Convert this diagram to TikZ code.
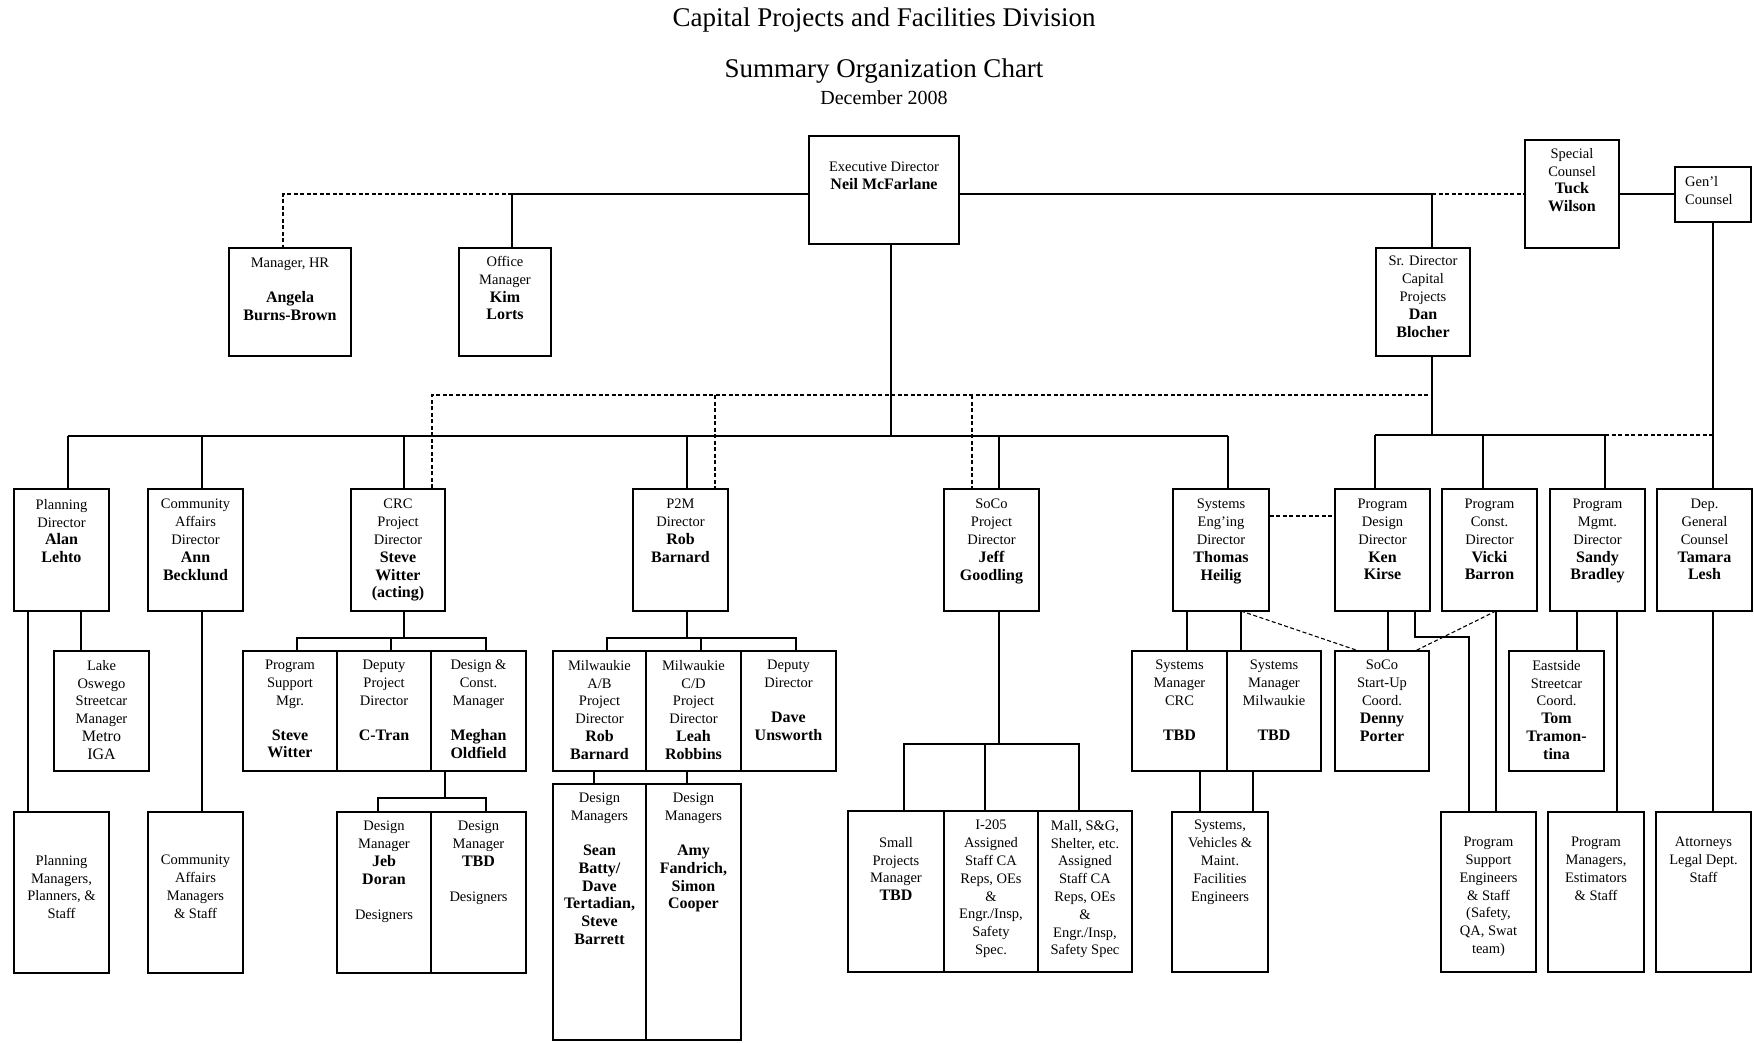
\documentclass[tikz,border=0pt]{standalone}
\usepackage{fontspec}
\setmainfont{Liberation Serif}
\usetikzlibrary{fit}
\newcommand\nm[1]{{\fontsize{16}{17.5}\selectfont\bfseries #1}}
\newcommand\obox[7]{%
  \node[ob, fit={(#2,#3) (#4,#5)}] (#1) {};
  \pgfmathsetmacro\ocx{(#2+#4)/2}%
  \node[otx] (#1-t) at (\ocx,#6) {#7};}
\tikzset{
  ob/.style={draw, line width=1.3pt, inner sep=0pt, rectangle},
  otx/.style={anchor=north, align=center, inner sep=0pt, font=\fontsize{14.5}{17.8}\selectfont},
  cn/.style={line width=1.1pt},
  dsh/.style={line width=1.1pt, dash pattern=on 4pt off 2.5pt},
}
\begin{document}
\begin{tikzpicture}[x=1pt,y=-1pt]
\useasboundingbox[fill=white] (0,0) rectangle (1754,1042);
% titles
\node[font=\fontsize{27}{30}\selectfont] (t1) at (884,20) {Capital Projects and Facilities Division};
\node[font=\fontsize{27}{30}\selectfont] (t2) at (884,71) {Summary Organization Chart};
\node[font=\fontsize{20}{23}\selectfont] (t3) at (884,98) {December 2008};
% top level
\obox{exec}{809}{136}{959}{244}{162}{Executive Director\\\nm{Neil McFarlane}}
\obox{hr}{229}{248}{351}{356}{258}{Manager, HR\\[17pt]\nm{Angela}\\\nm{Burns-Brown}}
\obox{office}{459}{248}{551}{356}{256}{Office\\Manager\\\nm{Kim}\\\nm{Lorts}}
\obox{srdir}{1376}{248}{1470}{356}{256}{Sr. Director\\Capital\\Projects\\\nm{Dan}\\\nm{Blocher}}
\obox{special}{1525}{140}{1619}{248}{148}{Special\\Counsel\\\nm{Tuck}\\\nm{Wilson}}
\node[ob, fit={(1675,167) (1751,222)}] (genl) {};
\node[otx, anchor=north west, align=left] (genl-t) at (1685,176) {Gen'l\\Counsel};
% level 2
\obox{pl}{14}{489}{109}{611}{499}{Planning\\Director\\\nm{Alan}\\\nm{Lehto}}
\obox{ca}{148}{489}{243}{611}{499}{Community\\Affairs\\Director\\\nm{Ann}\\\nm{Becklund}}
\obox{crc}{351}{489}{445}{611}{499}{CRC\\Project\\Director\\\nm{Steve}\\\nm{Witter}\\\nm{(acting)}}
\obox{p2m}{633}{489}{728}{611}{499}{P2M\\Director\\\nm{Rob}\\\nm{Barnard}}
\obox{soco}{944}{489}{1039}{611}{499}{SoCo\\Project\\Director\\\nm{Jeff}\\\nm{Goodling}}
\obox{syseng}{1173}{489}{1269}{611}{499}{Systems\\Eng'ing\\Director\\\nm{Thomas}\\\nm{Heilig}}
\obox{pd}{1335}{489}{1430}{611}{499}{Program\\Design\\Director\\\nm{Ken}\\\nm{Kirse}}
\obox{pc}{1442}{489}{1537}{611}{499}{Program\\Const.\\Director\\\nm{Vicki}\\\nm{Barron}}
\obox{pm}{1550}{489}{1645}{611}{499}{Program\\Mgmt.\\Director\\\nm{Sandy}\\\nm{Bradley}}
\obox{dep}{1657}{489}{1752}{611}{499}{Dep.\\General\\Counsel\\\nm{Tamara}\\\nm{Lesh}}
% level 3
\obox{lake}{54}{651}{149}{771}{660}{Lake\\Oswego\\Streetcar\\Manager\\{\fontsize{16}{17.5}\selectfont Metro}\\{\fontsize{16}{17.5}\selectfont IGA}}
\obox{psm}{243}{651}{337}{771}{660}{Program\\Support\\Mgr.\\[17pt]\nm{Steve}\\\nm{Witter}}
\obox{dpd}{337}{651}{431}{771}{660}{Deputy\\Project\\Director\\[17pt]\nm{C-Tran}}
\obox{dcm}{431}{651}{526}{771}{660}{Design \&\\Const.\\Manager\\[17pt]\nm{Meghan}\\\nm{Oldfield}}
\obox{mab}{553}{651}{646}{771}{660}{Milwaukie\\A/B\\Project\\Director\\\nm{Rob}\\\nm{Barnard}}
\obox{mcd}{646}{651}{741}{771}{660}{Milwaukie\\C/D\\Project\\Director\\\nm{Leah}\\\nm{Robbins}}
\obox{dd}{741}{651}{836}{771}{660}{Deputy\\Director\\[17pt]\nm{Dave}\\\nm{Unsworth}}
\obox{smc}{1132}{651}{1227}{771}{660}{Systems\\Manager\\CRC\\[17pt]\nm{TBD}}
\obox{smm}{1227}{651}{1321}{771}{660}{Systems\\Manager\\Milwaukie\\[17pt]\nm{TBD}}
\obox{start}{1335}{651}{1429}{771}{660}{SoCo\\Start-Up\\Coord.\\\nm{Denny}\\\nm{Porter}}
\obox{east}{1509}{651}{1604}{771}{660}{Eastside\\Streetcar\\Coord.\\\nm{Tom}\\\nm{Tramon-}\\\nm{tina}}
% level 4
\obox{plm}{14}{812}{109}{973}{855}{Planning\\Managers,\\Planners, \&\\Staff}
\obox{cam}{148}{812}{243}{973}{855}{Community\\Affairs\\Managers\\\& Staff}
\obox{dm1}{337}{812}{431}{973}{821}{Design\\Manager\\\nm{Jeb}\\\nm{Doran}\\[17pt]Designers}
\obox{dm2}{431}{812}{526}{973}{821}{Design\\Manager\\\nm{TBD}\\[17pt]Designers}
\obox{dma}{553}{784}{646}{1040}{793}{Design\\Managers\\[17pt]\nm{Sean}\\\nm{Batty/}\\\nm{Dave}\\\nm{Tertadian,}\\\nm{Steve}\\\nm{Barrett}}
\obox{dmc}{646}{784}{741}{1040}{793}{Design\\Managers\\[17pt]\nm{Amy}\\\nm{Fandrich,}\\\nm{Simon}\\\nm{Cooper}}
\obox{spm}{848}{811}{944}{972}{837}{Small\\Projects\\Manager\\\nm{TBD}}
\obox{i205}{944}{811}{1038}{972}{820}{I-205\\Assigned\\Staff CA\\Reps, OEs\\\&\\Engr./Insp,\\Safety\\Spec.}
\obox{mall}{1038}{811}{1132}{972}{820}{Mall, S\&G,\\Shelter, etc.\\Assigned\\Staff CA\\Reps, OEs\\\&\\Engr./Insp,\\Safety Spec}
\obox{sve}{1172}{812}{1268}{972}{820}{Systems,\\Vehicles \&\\Maint.\\Facilities\\Engineers}
\obox{pse}{1441}{812}{1536}{972}{837}{Program\\Support\\Engineers\\\& Staff\\(Safety,\\QA, Swat\\team)}
\obox{pme}{1548}{812}{1644}{972}{837}{Program\\Managers,\\Estimators\\\& Staff}
\obox{att}{1656}{812}{1751}{972}{837}{Attorneys\\Legal Dept.\\Staff}

% ---- connectors: top
\coordinate (hj) at (512,194);
\coordinate (hl) at (283,194);
\coordinate (sj) at (1432,194);
\draw[cn] (exec.west |- hj) -- (hj) -- (hj |- office.north);
\draw[dsh] (hj) -- (hl) -- (hl |- hr.north);
\draw[cn] (exec.east |- sj) -- (sj) -- (sj |- srdir.north);
\draw[dsh] (sj) -- (special.west |- sj);
\draw[cn] (special.east |- sj) -- (genl.west |- sj);
\draw[cn] (genl.south) -- (genl.south |- dep.north);
% exec to level 2
\coordinate (ex) at (891,436);
\coordinate (L2a) at (68,436);
\coordinate (L2b) at (1228,436);
\draw[cn] (ex |- exec.south) -- (ex);
\draw[cn] (L2a) -- (L2b);
\draw[cn] (L2a) -- (L2a |- pl.north);
\coordinate (v2) at (202,436); \draw[cn] (v2) -- (v2 |- ca.north);
\coordinate (v3) at (404,436); \draw[cn] (v3) -- (v3 |- crc.north);
\coordinate (v4) at (687,436); \draw[cn] (v4) -- (v4 |- p2m.north);
\coordinate (v5) at (999,436); \draw[cn] (v5) -- (v5 |- soco.north);
\draw[cn] (L2b) -- (L2b |- syseng.north);
% dashed from Sr Director
\coordinate (d0) at (432,395);
\coordinate (d3) at (1432,395);
\draw[dsh] (d0 |- crc.north) -- (d0) -- (d3);
\coordinate (d1) at (715,395); \draw[dsh] (d1) -- (d1 |- p2m.north);
\coordinate (d2) at (972,395); \draw[dsh] (d2) -- (d2 |- soco.north);
% Sr Director to its directors
\coordinate (sd) at (1432,435);
\coordinate (s1) at (1375,435);
\coordinate (s2) at (1483,435);
\coordinate (s4) at (1605,435);
\coordinate (s5) at (1713,435);
\draw[cn] (sd |- srdir.south) -- (sd);
\draw[cn] (s1) -- (s4);
\draw[dsh] (s4) -- (s5);
\draw[cn] (s1) -- (s1 |- pd.north);
\draw[cn] (s2) -- (s2 |- pc.north);
\draw[cn] (s4) -- (s4 |- pm.north);
% planning & community
\coordinate (k1) at (28,0); \draw[cn] (k1 |- pl.south) -- (k1 |- plm.north);
\coordinate (k2) at (81,0); \draw[cn] (k2 |- pl.south) -- (k2 |- lake.north);
\coordinate (k3) at (202,0); \draw[cn] (k3 |- ca.south) -- (k3 |- cam.north);
% CRC
\coordinate (cb) at (404,638);
\coordinate (cbL) at (297,638);
\coordinate (cbM) at (391,638);
\coordinate (cbR) at (486,638);
\draw[cn] (cb |- crc.south) -- (cb);
\draw[cn] (cbL |- psm.north) -- (cbL) -- (cbR) -- (cbR |- dcm.north);
\draw[cn] (cbM) -- (cbM |- dpd.north);
\coordinate (mb) at (445,798);
\coordinate (mbL) at (378,798);
\coordinate (mbR) at (486,798);
\draw[cn] (mb |- dcm.south) -- (mb);
\draw[cn] (mbL |- dm1.north) -- (mbL) -- (mbR) -- (mbR |- dm2.north);
% P2M
\coordinate (pb) at (687,638);
\coordinate (pbL) at (607,638);
\coordinate (pbM) at (701,638);
\coordinate (pbR) at (796,638);
\draw[cn] (pb |- p2m.south) -- (pb);
\draw[cn] (pbL |- mab.north) -- (pbL) -- (pbR) -- (pbR |- dd.north);
\draw[cn] (pbM) -- (pbM |- mcd.north);
\coordinate (k4) at (594,0); \draw[cn] (k4 |- mab.south) -- (k4 |- dma.north);
\coordinate (k5) at (687,0); \draw[cn] (k5 |- mcd.south) -- (k5 |- dmc.north);
% SoCo
\coordinate (sb) at (999,744);
\coordinate (sbL) at (904,744);
\coordinate (sbM) at (985,744);
\coordinate (sbR) at (1079,744);
\draw[cn] (sb |- soco.south) -- (sb);
\draw[cn] (sbL |- spm.north) -- (sbL) -- (sbR) -- (sbR |- mall.north);
\draw[cn] (sbM) -- (sbM |- i205.north);
% Systems engineering
\coordinate (k6) at (1187,0); \draw[cn] (k6 |- syseng.south) -- (k6 |- smc.north);
\coordinate (k7) at (1241,0); \draw[cn] (k7 |- syseng.south) -- (k7 |- smm.north);
\coordinate (k8) at (1200,0); \draw[cn] (k8 |- smc.south) -- (k8 |- sve.north);
\coordinate (k9) at (1253,0); \draw[cn] (k9 |- smm.south) -- (k9 |- sve.north);
\coordinate (hd) at (1300,516);
\draw[dsh] (syseng.east |- hd) -- (pd.west |- hd);
\coordinate (q1) at (1241,611);
\coordinate (q2) at (1359,651);
\coordinate (q3) at (1496,611);
\coordinate (q4) at (1415,651);
\draw[dsh] (q1) -- (q2);
\draw[dsh] (q3) -- (q4);
% program directors
\coordinate (k10) at (1388,0); \draw[cn] (k10 |- pd.south) -- (k10 |- start.north);
\coordinate (pa) at (1415,637);
\coordinate (pe) at (1469,637);
\draw[cn] (pa |- pd.south) -- (pa) -- (pe) -- (pe |- pse.north);
\coordinate (k11) at (1496,0); \draw[cn] (k11 |- pc.south) -- (k11 |- pse.north);
\coordinate (k12) at (1577,0); \draw[cn] (k12 |- pm.south) -- (k12 |- east.north);
\coordinate (k13) at (1617,0); \draw[cn] (k13 |- pm.south) -- (k13 |- pme.north);
\coordinate (k14) at (1713,0); \draw[cn] (k14 |- dep.south) -- (k14 |- att.north);
\end{tikzpicture}
\end{document}
